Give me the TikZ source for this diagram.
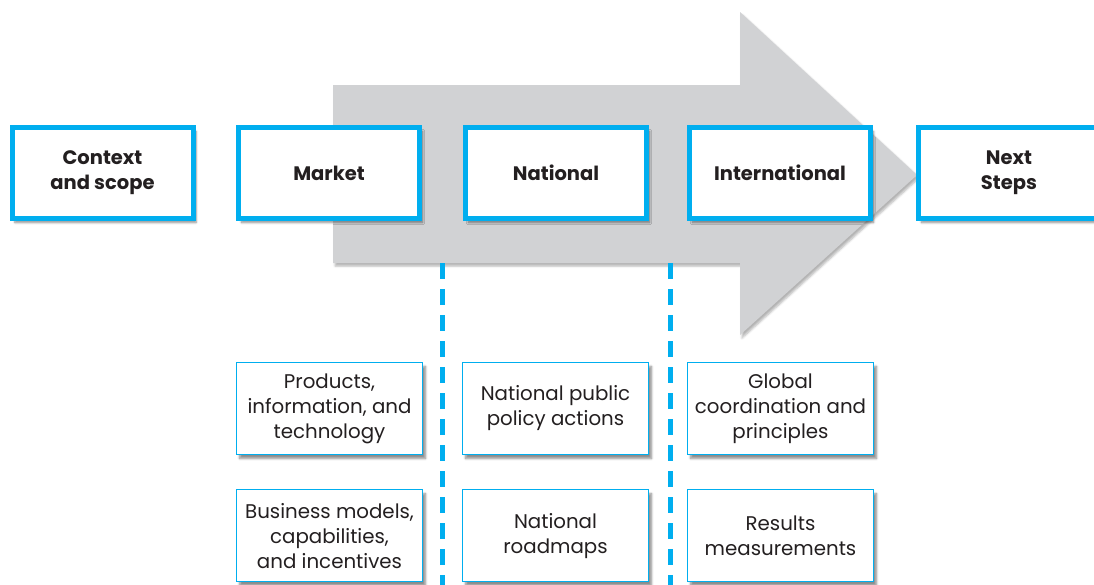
\documentclass[tikz,border=0pt]{standalone}
\usepackage{fontspec}
\setmainfont{Poppins}
\usetikzlibrary{positioning}
\usetikzlibrary{shadows.blur}
\definecolor{boxcyan}{HTML}{00AEEF}
\definecolor{arrowgray}{HTML}{D1D2D4}
\definecolor{textdark}{HTML}{231F20}

\begin{document}
\begin{tikzpicture}[x=1pt,y=-1pt]
\tikzset{stagebox/.style={draw=boxcyan,line width=5pt,fill=white,text=textdark,
  minimum width=181pt,minimum height=91pt,align=center,
  font=\fontsize{19.5}{25}\selectfont\bfseries,
  blur shadow={shadow xshift=3pt,shadow yshift=-4pt,shadow blur steps=6,shadow opacity=45}}}
\tikzset{itembox/.style={draw=boxcyan,line width=1.2pt,fill=white,text=textdark,
  minimum width=186pt,minimum height=92pt,align=center,
  font=\fontsize{19.8}{25}\selectfont,
  blur shadow={shadow xshift=3pt,shadow yshift=-4pt,shadow blur steps=6,shadow opacity=45}}}
\tikzset{divider/.style={draw=boxcyan,line width=5pt,dash pattern=on 16pt off 10pt}}
\useasboundingbox (0,0) rectangle (1094,584);
\clip (0,0) rectangle (1094,584);

\fill[arrowgray,blur shadow={shadow xshift=2pt,shadow yshift=-3pt,shadow blur steps=5,shadow opacity=30}]
  (333,85) -- (740,85) -- (740,12) -- (917,175) -- (740,335) -- (740,263) -- (333,263) -- cycle;

\coordinate (d1top) at (442,263);
\coordinate (d1bot) at (442,590);
\coordinate (d2top) at (670,263);
\coordinate (d2bot) at (670,590);
\draw[divider] (d1top) -- (d1bot);
\draw[divider] (d2top) -- (d2bot);

\node[stagebox] (context) at (102.5,173) {Context\\and scope};
\node[stagebox] (market) at (329,173) {Market};
\node[stagebox] (national) at (556,173) {National};
\node[stagebox] (international) at (780,173) {International};
\node[stagebox] (next) at (1009,173) {Next\\Steps};

\node[itembox] (products) at (329.5,408.5) {Products,\\information, and\\technology};
\node[itembox,below=34pt of products] (business) {Business models,\\capabilities,\\and incentives};
\node[itembox] (policy) at (555.5,408.5) {National public\\policy actions};
\node[itembox,below=34pt of policy] (roadmaps) {National\\roadmaps};
\node[itembox] (global) at (780.5,408.5) {Global\\coordination and\\principles};
\node[itembox,below=34pt of global] (results) {Results\\measurements};
\end{tikzpicture}
\end{document}
